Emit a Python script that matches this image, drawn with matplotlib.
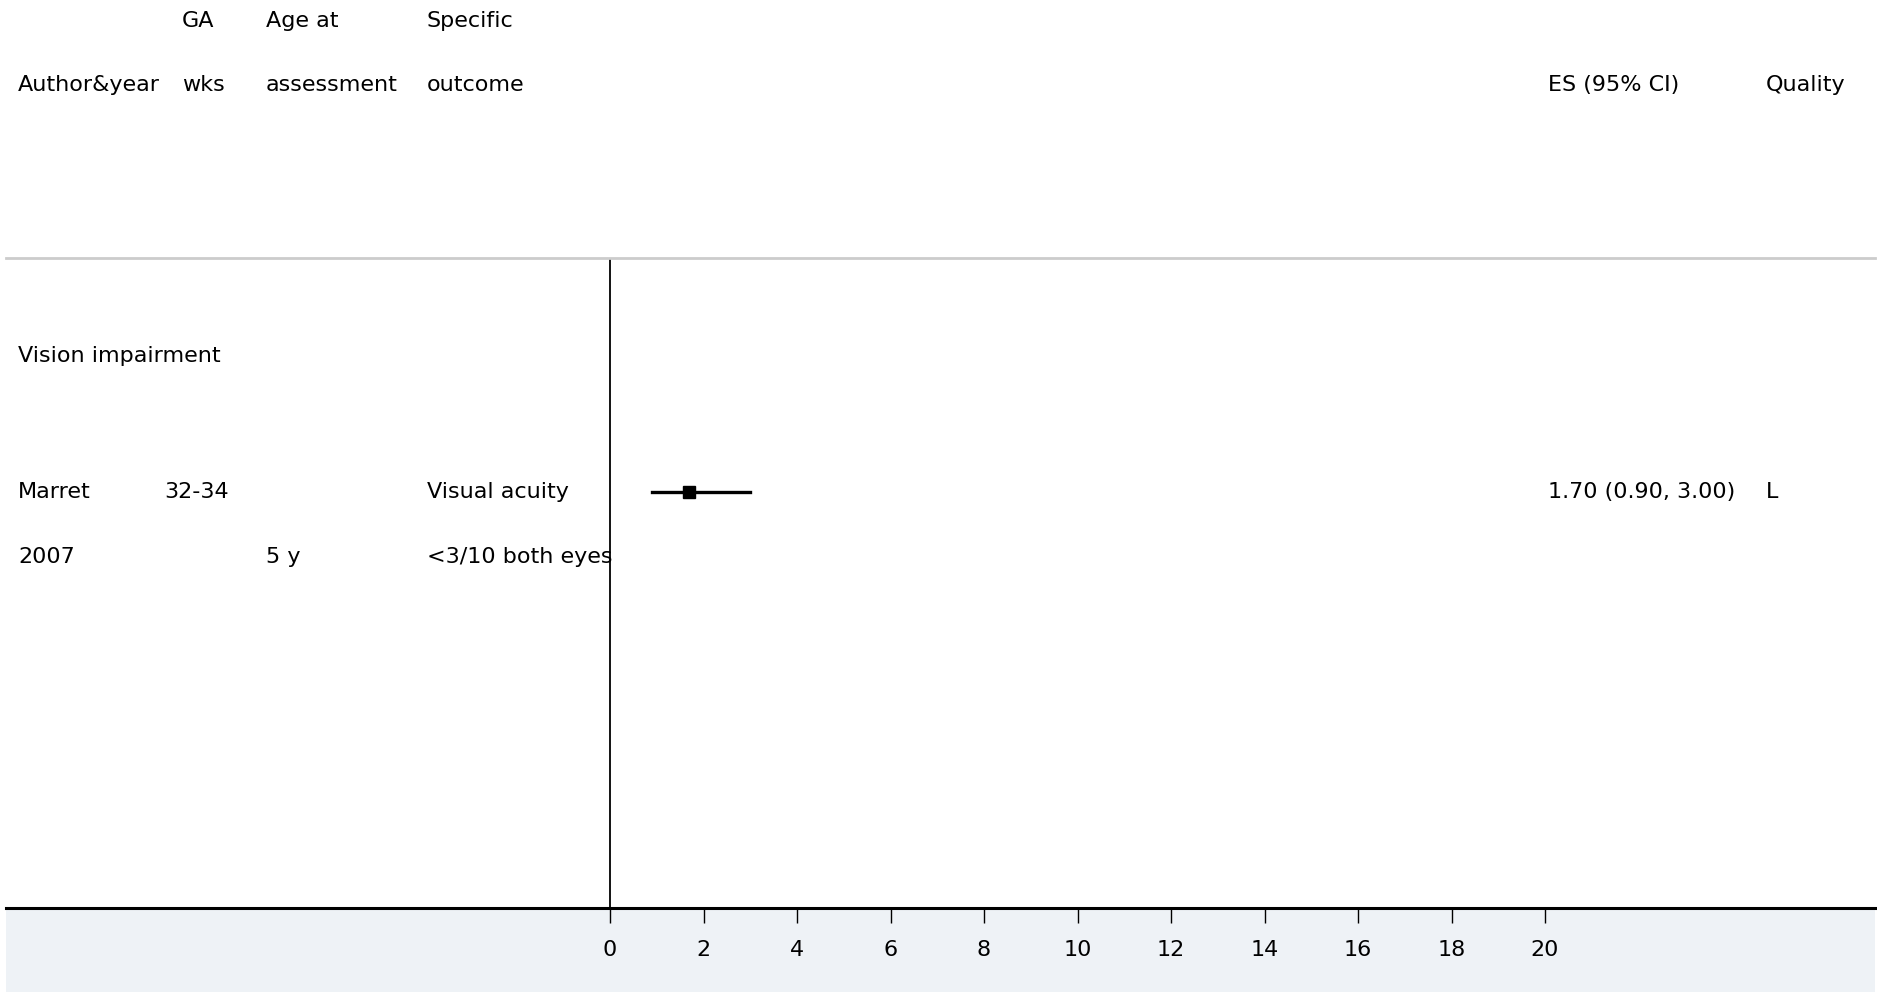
import numpy as np
import matplotlib.pyplot as plt
from matplotlib.patches import Rectangle

# study data
authors = ['Marret']
years = ['2007']
ga_wks = ['32-34']
age_at = ['5 y']
outcome1 = ['Visual acuity']
outcome2 = ['<3/10 both eyes']
es = [1.70]
ci_lo = [0.90]
ci_hi = [3.00]
quality = ['L']
group = 'Vision impairment'
xticks = np.arange(0, 21, 2)

plt.rcParams['font.family'] = ['DejaVu Sans']
fs = 16

fig = plt.figure(figsize=(18.77, 9.93), dpi=100)
W, H = 1877, 993
# axes in pixel box: left 6, right 1875, top 258, bottom 908
ax = fig.add_axes([6/W, 1 - 908/H, (1875-6)/W, (908-258)/H])
ax.set_zorder(2)

# bottom grey band
fig.patches.append(Rectangle((6/W, 1 - 992/H), (1875-6)/W, (992-909)/H,
                             transform=fig.transFigure, facecolor='#eef2f6',
                             edgecolor='none', zorder=-1))

x0 = (6 - 610) / 46.75
x1 = (1875 - 610) / 46.75
ax.set_xlim(x0, x1)
ax.set_ylim(10, 0)
ax.patch.set_alpha(0)

for s in ['left', 'right']:
    ax.spines[s].set_visible(False)
ax.spines['top'].set_color('#cccccc')
ax.spines['top'].set_linewidth(2)
ax.spines['bottom'].set_color('black')
ax.spines['bottom'].set_linewidth(2.2)

ax.set_yticks([])
ax.set_xticks(xticks)
ax.set_xticklabels([str(t) for t in xticks], fontsize=fs)
ax.tick_params(axis='x', length=11, width=1, pad=12)

# null line
ax.axvline(0, color='black', lw=1.3)

def px(p):
    # pixel x -> data x
    return (p - 610) / 46.75

# header rows
hy1, hy2 = -3.64, -2.66
hdr = [(18, None, 'Author&year'), (182, 'GA', 'wks'), (266, 'Age at', 'assessment'),
       (427, 'Specific', 'outcome'), (1548, None, 'ES (95% CI)'), (1766, None, 'Quality')]
for xp, t1, t2 in hdr:
    if t1:
        ax.text(px(xp), hy1, t1, fontsize=fs, va='center', clip_on=False)
    ax.text(px(xp), hy2, t2, fontsize=fs, va='center', clip_on=False)

ax.text(px(18), 1.5, group, fontsize=fs, va='center')

for i in range(len(authors)):
    y = 3.6 + i * 3
    ax.text(px(18), y, authors[i], fontsize=fs, va='center')
    ax.text(px(18), y + 1, years[i], fontsize=fs, va='center')
    ax.text(px(164), y, ga_wks[i], fontsize=fs, va='center')
    ax.text(px(266), y + 1, age_at[i], fontsize=fs, va='center')
    ax.text(px(427), y, outcome1[i], fontsize=fs, va='center')
    ax.text(px(427), y + 1, outcome2[i], fontsize=fs, va='center')
    ax.plot([ci_lo[i], ci_hi[i]], [y, y], color='black', lw=2.4)
    ax.plot(es[i], y, 's', color='black', ms=8)
    ax.text(px(1548), y, '%.2f (%.2f, %.2f)' % (es[i], ci_lo[i], ci_hi[i]),
            fontsize=fs, va='center')
    ax.text(px(1766), y, quality[i], fontsize=fs, va='center')

plt.savefig('out.png', dpi=100)
